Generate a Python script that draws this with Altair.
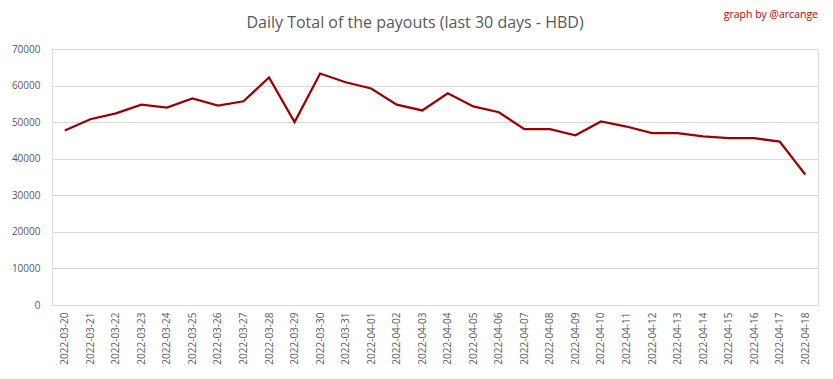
import altair as alt
import pandas as pd

dates = [
    "2022-03-20", "2022-03-21", "2022-03-22", "2022-03-23", "2022-03-24",
    "2022-03-25", "2022-03-26", "2022-03-27", "2022-03-28", "2022-03-29",
    "2022-03-30", "2022-03-31", "2022-04-01", "2022-04-02", "2022-04-03",
    "2022-04-04", "2022-04-05", "2022-04-06", "2022-04-07", "2022-04-08",
    "2022-04-09", "2022-04-10", "2022-04-11", "2022-04-12", "2022-04-13",
    "2022-04-14", "2022-04-15", "2022-04-16", "2022-04-17", "2022-04-18",
]
payouts = [
    47700, 50800, 52400, 54800, 54000,
    56500, 54500, 55700, 62200, 50000,
    63300, 60900, 59200, 54800, 53200,
    57900, 54300, 52700, 48100, 48100,
    46400, 50200, 48800, 47000, 47000,
    46100, 45600, 45600, 44700, 35700,
]
y_ticks = [0, 10000, 20000, 30000, 40000, 50000, 60000, 70000]
title_text = ["Daily Total of the payouts (last 30 days - HBD)"]
credit = ["graph by @arcange"]

df = pd.DataFrame({"date": dates, "payout": payouts})
credit_df = pd.DataFrame({"t": credit})
title_df = pd.DataFrame({"t": title_text})

FONT = "Open Sans"
GRAY = "#595959"

line = alt.Chart(df).mark_line(color="#9c0000", strokeWidth=2.25).encode(
    x=alt.X(
        "date:O",
        sort=dates,
        scale=alt.Scale(type="point", padding=0.5),
        axis=alt.Axis(
            title=None, labelAngle=-90, ticks=False, domain=False, grid=False,
            labelColor=GRAY, labelFont=FONT, labelFontSize=10, labelPadding=7,
        ),
    ),
    y=alt.Y(
        "payout:Q",
        scale=alt.Scale(domain=[0, 70000], nice=False),
        axis=alt.Axis(
            title=None, values=y_ticks, format="d", ticks=False, domain=False,
            gridColor="#d9d9d9", gridWidth=1, labelColor=GRAY, labelFont=FONT,
            labelFontSize=10, labelPadding=12,
        ),
    ),
)

title_mark = alt.Chart(title_df).mark_text(
    align="center", baseline="middle", color=GRAY, font=FONT, fontSize=16
).encode(text="t:N", x=alt.value(363), y=alt.value(-26))

credit_text = alt.Chart(credit_df).mark_text(
    align="right", baseline="middle", color="#c00000", font=FONT, fontSize=10.5
).encode(text="t:N", x=alt.value(766), y=alt.value(-34))

chart = (
    alt.layer(line, title_mark, credit_text)
    .properties(
        width=766,
        height=256,
        padding={"left": 44, "top": 41, "right": 7, "bottom": 60},
        autosize=alt.AutoSizeParams(type="none"),
    )
    .configure_view(stroke=None)
    .configure(background="white")
)

chart.save("out.html", embed_options={"renderer": "svg", "actions": False})
